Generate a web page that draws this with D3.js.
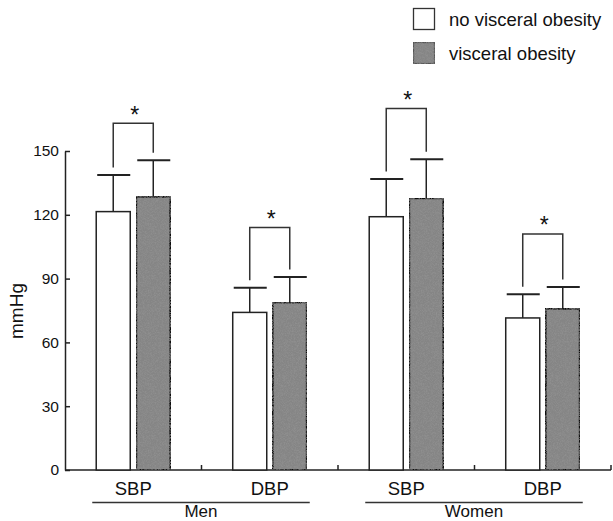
<!DOCTYPE html>
<html>
<head>
<meta charset="utf-8">
<script src="https://cdn.jsdelivr.net/npm/d3@7"></script>
<style>
  html, body { margin: 0; padding: 0; background: #fff; }
  svg { display: block; }
  text { font-family: "Liberation Sans", Arial, Helvetica, sans-serif; fill: #111; }
</style>
</head>
<body>
<svg id="chart" width="613" height="521"></svg>
<script>
// ---- data ----
const categories = ["SBP", "DBP", "SBP ", "DBP "];
const categoryLabels = ["SBP", "DBP", "SBP", "DBP"];
const groups = ["Men", "Women"];
const groupMembers = [[0, 1], [2, 3]];
const series = ["no visceral obesity", "visceral obesity"];
const meanNoVO = [121.5, 74.1, 119.1, 71.5];
const meanVO   = [128.5, 78.8, 127.8, 75.8];
const sdNoVO   = [17.2, 11.6, 17.7, 11.1];
const sdVO     = [17.1, 12.0, 18.3, 10.3];
const bracketTop = [163, 114, 170, 111];
const yTicks = [0, 30, 60, 90, 120, 150];
const yLabel = "mmHg";

// ---- layout ----
const svg = d3.select("#chart");
const left = 65, right = 611, bottom = 470, top150 = 151;
const y = d3.scaleLinear().domain([0, 150]).range([bottom, top150]);
const x0 = d3.scaleBand().domain(categories).range([left, right]).padding(0);
const x1 = d3.scaleBand().domain(series).range([0, x0.bandwidth()])
  .paddingInner(0.15).paddingOuter(0.78);
const fills = ["#ffffff", "#858585"];
const strokes = ["#222", "#111"];

// noise texture for the gray bars
const defs = svg.append("defs");
const filt = defs.append("filter").attr("id", "grain").attr("x", 0).attr("y", 0).attr("width", 1).attr("height", 1);
filt.append("feTurbulence").attr("type", "fractalNoise").attr("baseFrequency", 1.6).attr("numOctaves", 1).attr("seed", 3).attr("result", "n");
filt.append("feColorMatrix").attr("in", "n").attr("type", "matrix")
  .attr("values", "0 0 0 0 0.3  0 0 0 0 0.3  0 0 0 0 0.3  1.6 0 0 0 -0.6").attr("result", "dots");
filt.append("feComposite").attr("in", "dots").attr("in2", "SourceGraphic").attr("operator", "atop");

const rows = categories.map((c, i) => ({
  cat: c,
  vals: [
    { s: series[0], m: meanNoVO[i], sd: sdNoVO[i], k: 0 },
    { s: series[1], m: meanVO[i], sd: sdVO[i], k: 1 }
  ],
  br: bracketTop[i]
}));

// axes
const yAxis = d3.axisLeft(y).tickValues(yTicks).tickSizeInner(-5).tickSizeOuter(0).tickPadding(6);
const gy = svg.append("g").attr("transform", `translate(${left},0)`).call(yAxis);
gy.attr("font-size", null).attr("font-family", null);
gy.select(".domain").attr("stroke", "#222").attr("stroke-width", 1.5);
gy.selectAll(".tick line").attr("stroke", "#222").attr("stroke-width", 1.5);
gy.selectAll(".tick text").style("font-size", "15.5px").attr("fill", "#111");

// baseline
svg.append("line").attr("x1", left).attr("x2", right).attr("y1", y(0)).attr("y2", y(0))
  .attr("stroke", "#222").attr("stroke-width", 1.5);
// boundary ticks
svg.selectAll(".bt").data(categories.slice(1).concat(["end"])).enter().append("line")
  .attr("x1", d => d === "end" ? right : x0(d)).attr("x2", d => d === "end" ? right : x0(d))
  .attr("y1", y(0)).attr("y2", y(0) - 5).attr("stroke", "#222").attr("stroke-width", 1.5);

// bars
const cg = svg.selectAll(".cat").data(rows).enter().append("g")
  .attr("transform", d => `translate(${x0(d.cat)},0)`);
cg.selectAll("rect").data(d => d.vals).enter().append("rect")
  .attr("x", d => x1(d.s)).attr("width", x1.bandwidth())
  .attr("y", d => y(d.m)).attr("height", d => y(0) - y(d.m))
  .attr("fill", d => fills[d.k]).attr("stroke", d => strokes[d.k])
  .attr("stroke-width", d => d.k ? 2 : 1.5)
  .attr("filter", d => d.k ? "url(#grain)" : null);

// error bars
cg.selectAll(".ev").data(d => d.vals).enter().append("line")
  .attr("x1", d => x1(d.s) + x1.bandwidth() / 2).attr("x2", d => x1(d.s) + x1.bandwidth() / 2)
  .attr("y1", d => y(d.m)).attr("y2", d => y(d.m + d.sd))
  .attr("stroke", "#222").attr("stroke-width", 1.5);
cg.selectAll(".ec").data(d => d.vals).enter().append("line")
  .attr("x1", d => x1(d.s) + 1).attr("x2", d => x1(d.s) + x1.bandwidth())
  .attr("y1", d => y(d.m + d.sd)).attr("y2", d => y(d.m + d.sd))
  .attr("stroke", "#222").attr("stroke-width", 2);

// significance brackets
const gap = 7.5;
cg.append("path")
  .attr("d", d => {
    const xa = x1(series[0]) + x1.bandwidth() / 2, xb = x1(series[1]) + x1.bandwidth() / 2;
    const ya = y(d.vals[0].m + d.vals[0].sd) - gap, yb = y(d.vals[1].m + d.vals[1].sd) - gap;
    const yt = y(d.br);
    return `M${xa},${ya}V${yt}H${xb}V${yb}`;
  })
  .attr("fill", "none").attr("stroke", "#333").attr("stroke-width", 1.5);
cg.append("text")
  .attr("x", x0.bandwidth() / 2 + 1.5)
  .attr("y", d => y(d.br) - 0.5)
  .attr("text-anchor", "middle").style("font-size", "23px").text("*");

// category labels
svg.selectAll(".cl").data(categories).enter().append("text")
  .attr("x", d => x0(d) + x0.bandwidth() / 2)
  .attr("y", 495).attr("text-anchor", "middle").style("font-size", "18.5px")
  .text((d, i) => categoryLabels[i]);

// group underline + labels
groups.forEach((g, gi) => {
  const a = groupMembers[gi][0], b = groupMembers[gi][1];
  const xa = x0(categories[a]) + x0.bandwidth() / 2 - 41;
  const xb = x0(categories[b]) + x0.bandwidth() / 2 + 40;
  svg.append("line").attr("x1", xa).attr("x2", xb).attr("y1", 502.5).attr("y2", 502.5)
    .attr("stroke", "#333").attr("stroke-width", 1.5);
  svg.append("text").attr("x", (xa + xb) / 2).attr("y", 516.5)
    .attr("text-anchor", "middle").style("font-size", "17px").text(g);
});

// y label
const yl = svg.append("text")
  .attr("transform", "translate(22.5,311) rotate(-90)")
  .attr("text-anchor", "middle").attr("font-size", 19).style("font-size", "19px")
  .text(yLabel);

// legend
const lg = svg.append("g");
series.forEach((s, i) => {
  const yy = 8.5 + i * 34;
  lg.append("rect").attr("x", 413.5).attr("y", yy).attr("width", 21).attr("height", 21)
    .attr("fill", fills[i]).attr("stroke", i ? "#555" : "#333").attr("stroke-width", 1.3)
    .attr("filter", i ? "url(#grain)" : null);
  lg.append("text").attr("x", 449).attr("y", yy + 17.5).style("font-size", "18.5px").text(s);
});
</script>
</body>
</html>
